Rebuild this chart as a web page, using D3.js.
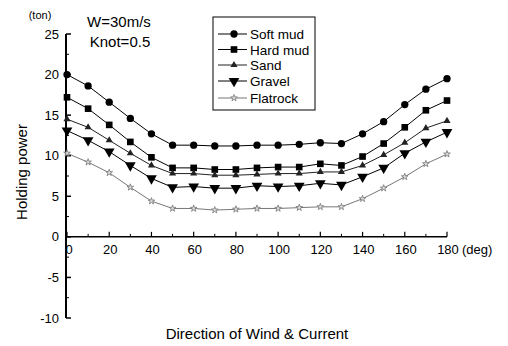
<!DOCTYPE html>
<html>
<head>
<meta charset="utf-8">
<script src="https://cdn.jsdelivr.net/npm/d3@7"></script>
<style>
  body { margin: 0; background: #fff; }
  text { font-family: "Liberation Sans", Arial, sans-serif; fill: #000; }
</style>
</head>
<body>
<div id="chart"></div>
<script>
const WIDTH = 508, HEIGHT = 346;

// direction of wind & current (deg)
const angles = [0, 10, 20, 30, 40, 50, 60, 70, 80, 90, 100, 110, 120, 130, 140, 150, 160, 170, 180];

// holding power (ton)
const softMud  = [20.0, 18.6, 16.6, 14.6, 12.7, 11.3, 11.3, 11.2, 11.2, 11.3, 11.3, 11.4, 11.6, 11.5, 12.7, 14.2, 16.3, 18.2, 19.5];
const hardMud  = [17.2, 15.8, 13.8, 11.7, 9.8, 8.5, 8.5, 8.3, 8.3, 8.5, 8.6, 8.6, 9.0, 8.8, 9.9, 11.5, 13.5, 15.6, 16.8];
const sand     = [14.5, 13.5, 11.9, 10.3, 8.8, 7.8, 7.8, 7.6, 7.6, 7.7, 7.8, 7.8, 8.0, 8.0, 8.8, 10.1, 11.6, 13.4, 14.3];
const gravel   = [13.1, 11.9, 10.5, 8.8, 7.2, 6.1, 6.2, 6.0, 6.0, 6.3, 6.2, 6.3, 6.6, 6.4, 7.4, 8.5, 10.3, 11.7, 12.9];
const flatrock = [10.3, 9.2, 7.9, 6.1, 4.4, 3.5, 3.5, 3.3, 3.4, 3.5, 3.5, 3.6, 3.7, 3.7, 4.7, 6.0, 7.4, 9.0, 10.2];

const seriesNames = ["Soft mud", "Hard mud", "Sand", "Gravel", "Flatrock"];
const seriesValues = [softMud, hardMud, sand, gravel, flatrock];

const xTicks = [0, 20, 40, 60, 80, 100, 120, 140, 160, 180];
const yTicks = [-10, -5, 0, 5, 10, 15, 20, 25];

// marker look per series
const symbols = [d3.symbolCircle, d3.symbolSquare, d3.symbolTriangle, d3.symbolTriangle, d3.symbolStar];
const symSizes = [42, 44, 22, 50, 14];
const symRotate = [0, 0, 0, 180, 0];
const lineColors = ["#000", "#000", "#222", "#000", "#777"];
const fillColors = ["#000", "#000", "#222", "#000", "#ddd"];

const svg = d3.select("#chart").append("svg")
  .attr("width", WIDTH)
  .attr("height", HEIGHT);

const x = d3.scaleLinear().domain([0, 180]).range([67, 447]);
const y = d3.scaleLinear().domain([-10, 25]).range([318, 34]);

// y axis line + ticks (inward)
const yAxis = svg.append("g").attr("transform", "translate(66,0)");
yAxis.append("line").attr("y1", y(25)).attr("y2", y(-10)).attr("stroke", "#000").attr("stroke-width", 2);
yAxis.selectAll(".maj").data(yTicks).join("line")
  .attr("x1", 0).attr("x2", 5).attr("y1", d => y(d)).attr("y2", d => y(d))
  .attr("stroke", "#000").attr("stroke-width", 1.5);
yAxis.selectAll(".min").data(d3.range(-7.5, 25, 5)).join("line")
  .attr("x1", 0).attr("x2", 3).attr("y1", d => y(d)).attr("y2", d => y(d))
  .attr("stroke", "#000").attr("stroke-width", 1);
yAxis.selectAll("text").data(yTicks).join("text")
  .attr("x", -7).attr("y", d => y(d) + 4.5)
  .attr("text-anchor", "end").style("font-size", "13px")
  .text(d => d);

// x axis at y = 0
const xAxis = svg.append("g").attr("transform", `translate(0,${y(0)})`);
xAxis.append("line").attr("x1", 66).attr("x2", x(180)).attr("stroke", "#000").attr("stroke-width", 1.5);
xAxis.selectAll(".maj").data(xTicks).join("line")
  .attr("x1", d => x(d)).attr("x2", d => x(d)).attr("y1", 0).attr("y2", -5)
  .attr("stroke", "#000").attr("stroke-width", 1.2);
xAxis.selectAll(".min").data(d3.range(10, 180, 20)).join("line")
  .attr("x1", d => x(d)).attr("x2", d => x(d)).attr("y1", 0).attr("y2", -3)
  .attr("stroke", "#000").attr("stroke-width", 1);
xAxis.selectAll("text").data(xTicks).join("text")
  .attr("x", d => d === 0 ? x(d) + 2 : x(d) + 1).attr("y", 17)
  .attr("text-anchor", "middle").style("font-size", "13px")
  .text(d => d);
xAxis.append("text").attr("x", 462).attr("y", 17).attr("text-anchor", "start")
  .style("font-size", "13px").text("(deg)");

// series
const line = d3.line().x((d, i) => x(angles[i])).y(d => y(d));
seriesValues.forEach((vals, s) => {
  svg.append("path").datum(vals)
    .attr("fill", "none").attr("stroke", lineColors[s]).attr("stroke-width", 1)
    .attr("d", line);
  svg.append("g").selectAll("path").data(vals).join("path")
    .attr("transform", (d, i) => `translate(${x(angles[i])},${y(d)}) rotate(${symRotate[s]})`)
    .attr("d", d3.symbol().type(symbols[s]).size(symSizes[s]))
    .attr("fill", fillColors[s])
    .attr("stroke", s === 4 ? "#777" : "none").attr("stroke-width", 0.8);
});

// legend
const legend = svg.append("g");
legend.append("rect").attr("x", 213).attr("y", 17).attr("width", 102).attr("height", 93)
  .attr("fill", "#fff").attr("stroke", "#000").attr("stroke-width", 1);
const legY = [34, 49.5, 65, 81, 98];
seriesNames.forEach((name, s) => {
  const g = legend.append("g").attr("transform", `translate(0,${legY[s]})`);
  g.append("line").attr("x1", 218).attr("x2", 247).attr("stroke", lineColors[s]).attr("stroke-width", 1);
  g.append("path").attr("transform", `translate(234,0) rotate(${symRotate[s]})`)
    .attr("d", d3.symbol().type(symbols[s]).size(symSizes[s]))
    .attr("fill", fillColors[s])
    .attr("stroke", s === 4 ? "#777" : "none").attr("stroke-width", 0.8);
  g.append("text").attr("x", 250).attr("y", 5).style("font-size", "13.5px").text(name);
});

// annotations
svg.append("text").attr("x", 40).attr("y", 19).attr("text-anchor", "middle").style("font-size", "11px").text("(ton)");
svg.append("text").attr("x", 119).attr("y", 27).attr("text-anchor", "middle").style("font-size", "15px").text("W=30m/s");
svg.append("text").attr("x", 120).attr("y", 47).attr("text-anchor", "middle").style("font-size", "15px").text("Knot=0.5");

// axis titles
svg.append("text").attr("transform", "translate(27,172) rotate(-90)")
  .attr("text-anchor", "middle").style("font-size", "15px").text("Holding power");
svg.append("text").attr("x", 257).attr("y", 339)
  .attr("text-anchor", "middle").style("font-size", "15px").text("Direction of Wind & Current");
</script>
</body>
</html>
